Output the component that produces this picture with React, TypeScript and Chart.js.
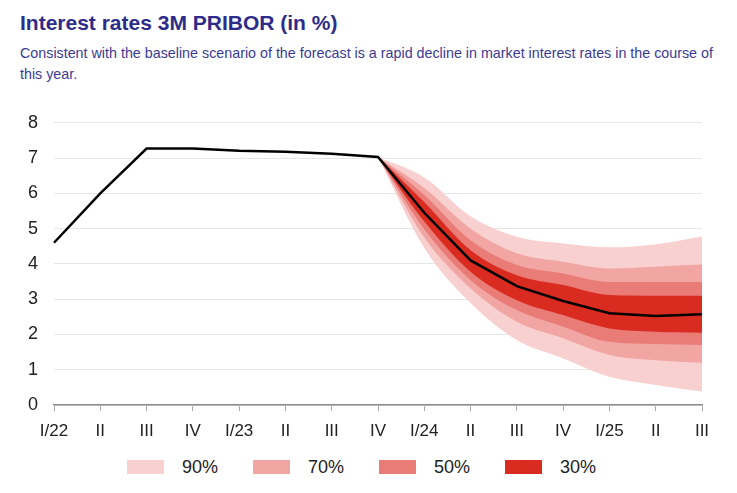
import React, { useEffect, useRef } from "react";
import { Chart, registerables } from "chart.js";

Chart.register(...registerables);

const labels = ["I/22", "II", "III", "IV", "I/23", "II", "III", "IV", "I/24", "II", "III", "IV", "I/25", "II", "III"];
const pribor = [4.6, 6.0, 7.27, 7.27, 7.21, 7.18, 7.12, 7.03, 5.45, 4.1, 3.37, 2.95, 2.6, 2.52, 2.57];
const N = null;
const up90 = [N, N, N, N, N, N, N, 7.03, 6.45, 5.35, 4.77, 4.58, 4.47, 4.56, 4.78];
const up70 = [N, N, N, N, N, N, N, 7.03, 6.15, 5.0, 4.3, 4.06, 3.87, 3.92, 3.98];
const up50 = [N, N, N, N, N, N, N, 7.03, 5.95, 4.67, 3.97, 3.73, 3.49, 3.49, 3.49];
const up30 = [N, N, N, N, N, N, N, 7.03, 5.75, 4.39, 3.68, 3.4, 3.12, 3.1, 3.1];
const lo30 = [N, N, N, N, N, N, N, 7.03, 5.2, 3.78, 2.97, 2.55, 2.17, 2.08, 2.05];
const lo50 = [N, N, N, N, N, N, N, 7.03, 4.98, 3.54, 2.69, 2.22, 1.79, 1.73, 1.7];
const lo70 = [N, N, N, N, N, N, N, 7.03, 4.75, 3.31, 2.36, 1.89, 1.42, 1.27, 1.2];
const lo90 = [N, N, N, N, N, N, N, 7.03, 4.45, 2.89, 1.84, 1.32, 0.8, 0.57, 0.38];

const bandNames = ["90%", "70%", "50%", "30%"];
const bandColors = ["#f8d0d0", "#f1a6a3", "#e97c77", "#d92b1f"];

const FONT = "'Liberation Sans', Arial, sans-serif";

export default function App() {
  const ref = useRef<HTMLCanvasElement | null>(null);

  useEffect(() => {
    if (!ref.current) return;
    const band = (upper: (number | null)[], lower: (number | null)[], color: string) => [
      {
        data: upper,
        borderWidth: 0,
        pointRadius: 0,
        backgroundColor: color,
        borderColor: color,
        fill: "+1",
        cubicInterpolationMode: "monotone" as const,
      },
      {
        data: lower,
        borderWidth: 0,
        pointRadius: 0,
        backgroundColor: color,
        borderColor: color,
        fill: false,
        cubicInterpolationMode: "monotone" as const,
      },
    ];
    const chart = new Chart(ref.current, {
      type: "line",
      data: {
        labels,
        datasets: [
          {
            data: pribor,
            borderColor: "#000000",
            borderWidth: 2.5,
            pointRadius: 0,
            fill: false,
            tension: 0,
          },
          ...band(up30, lo30, bandColors[3]),
          ...band(up50, lo50, bandColors[2]),
          ...band(up70, lo70, bandColors[1]),
          ...band(up90, lo90, bandColors[0]),
        ] as any,
      },
      options: {
        animation: false,
        responsive: true,
        maintainAspectRatio: false,
        layout: { padding: { top: 12, right: 27, left: 0, bottom: 0 } },
        plugins: { legend: { display: false }, tooltip: { enabled: false } },
        scales: {
          x: {
            offset: false,
            grid: { drawOnChartArea: false, drawTicks: true, tickLength: 6, color: "#aaaaaa" },
            border: { color: "#8a8a8a", width: 1.5 },
            ticks: { font: { family: FONT, size: 17 }, color: "#222", padding: 10, maxRotation: 0, autoSkip: false },
            afterFit: (s: any) => { s.height = 44; },
          },
          y: {
            min: 0,
            max: 8,
            ticks: { stepSize: 1, font: { family: FONT, size: 18 }, color: "#222", padding: 16 },
            grid: { color: "#e6e6e6", drawTicks: false },
            border: { display: false },
            afterFit: (s: any) => { s.width = 46; },
          },
        },
      },
    });
    return () => chart.destroy();
  }, []);

  return (
    <div style={{ position: "relative", width: 721, height: 477, fontFamily: FONT }}>
      <div style={{ position: "absolute", left: 12, top: 2, fontSize: 21, fontWeight: "bold", color: "#2e2c8a", lineHeight: "26px" }}>
        Interest rates 3M PRIBOR (in %)
      </div>
      <div style={{ position: "absolute", left: 12, top: 35, width: 710, fontSize: 14.3, color: "#3b3a96", lineHeight: "21px" }}>
        Consistent with the baseline scenario of the forecast is a rapid decline in market interest rates in the course of this year.
      </div>
      <div style={{ position: "absolute", left: 0, top: 88, width: 721, height: 353 }}>
        <canvas ref={ref} />
      </div>
      <div style={{ position: "absolute", left: 119, top: 449, display: "flex" }}>
        {bandNames.map((n, i) => (
          <div key={n} style={{ width: 126, display: "flex", alignItems: "center", height: 20 }}>
            <span style={{ display: "inline-block", width: 37, height: 14, background: bandColors[i], marginRight: 18 }} />
            <span style={{ fontSize: 18, color: "#222" }}>{n}</span>
          </div>
        ))}
      </div>
    </div>
  );
}
